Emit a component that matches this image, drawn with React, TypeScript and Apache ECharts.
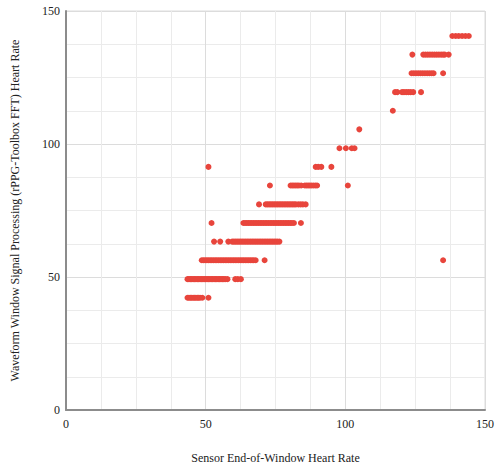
import React, { useEffect, useRef } from "react";
import * as echarts from "echarts";

// FFT output bins (rPPG-Toolbox FFT heart rate levels)
const fftBins: number[] = [42.2, 49.2, 56.3, 63.3, 70.3, 77.3, 84.4, 91.4, 98.4, 105.5, 112.5, 119.5, 126.6, 133.6, 140.6];

// Sensor end-of-window heart rate values observed at each FFT bin
const sensorAt42: number[] = [43.5, 44.0, 44.5, 45.0, 45.5, 46.0, 46.5, 47.0, 47.5, 48.0, 48.8, 51.0];
const sensorAt49: number[] = [43.5, 44, 44.5, 45, 45.5, 46, 46.5, 47, 47.5, 48, 48.5, 49, 49.5, 50, 50.5, 51, 51.5, 52, 52.5, 53, 53.5, 54, 54.5, 55, 55.5, 56, 56.5, 57, 57.8, 60.6, 61.5, 62.6];
const sensorAt56: number[] = [48.6, 49.2, 49.8, 50.4, 51, 51.6, 52.2, 52.8, 53.4, 54, 54.6, 55.2, 55.8, 56.4, 57, 57.6, 58.2, 58.8, 59.4, 60, 60.6, 61.2, 61.8, 62.4, 63, 63.6, 64.2, 64.8, 65.4, 66, 66.6, 67.2, 67.9, 71.1, 135.0];
const sensorAt63: number[] = [53.0, 55.2, 58.1, 59.5, 60.1, 60.7, 61.3, 61.9, 62.5, 63.1, 63.7, 64.3, 64.9, 65.5, 66.1, 66.7, 67.3, 67.9, 68.5, 69.1, 69.7, 70.3, 70.9, 71.5, 72.1, 72.7, 73.3, 73.9, 74.5, 75.1, 75.7, 76.4];
const sensorAt70: number[] = [52.1, 63.5, 64.1, 64.7, 65.3, 65.9, 66.5, 67.1, 67.7, 68.3, 68.9, 69.5, 70.1, 70.7, 71.3, 71.9, 72.5, 73.1, 73.7, 74.3, 74.9, 75.5, 76.1, 76.7, 77.3, 77.9, 78.5, 79.1, 79.7, 80.3, 80.9, 81.6, 84.1];
const sensorAt77: number[] = [69.1, 71.5, 72.1, 72.7, 73.3, 73.9, 74.5, 75.1, 75.7, 76.3, 76.9, 77.5, 78.1, 78.7, 79.3, 79.9, 80.5, 81.1, 81.7, 82.3, 83.2, 84.0, 84.8, 85.8];
const sensorAt84: number[] = [73.0, 80.4, 81.0, 81.6, 82.2, 82.8, 83.4, 84.2, 85.5, 86.1, 86.7, 87.3, 87.9, 88.6, 89.3, 89.9, 100.9];
const sensorAt91: number[] = [51.0, 89.4, 90.3, 91.4, 95.0];
const sensorAt98: number[] = [97.9, 100.2, 102.3, 103.3];
const sensorAt105: number[] = [105.0];
const sensorAt112: number[] = [117.0];
const sensorAt119: number[] = [117.8, 118.6, 120.3, 121.0, 121.8, 122.6, 123.4, 124.3, 127.1];
const sensorAt126: number[] = [123.7, 124.5, 125.3, 126.1, 126.9, 127.7, 128.5, 129.3, 130.1, 130.9, 131.6, 135.0];
const sensorAt133: number[] = [124.0, 127.9, 128.7, 129.5, 130.3, 131.1, 131.9, 132.7, 133.5, 134.3, 135.0, 135.6, 137.0];
const sensorAt140: number[] = [138.3, 139.5, 140.6, 141.8, 143.0, 144.2];

const sensorByBin: number[][] = [
  sensorAt42, sensorAt49, sensorAt56, sensorAt63, sensorAt70, sensorAt77, sensorAt84,
  sensorAt91, sensorAt98, sensorAt105, sensorAt112, sensorAt119, sensorAt126, sensorAt133, sensorAt140,
];

const xTitle = "Sensor End-of-Window Heart Rate";
const yTitle = "Waveform Window Signal Processing (rPPG-Toolbox FFT) Heart Rate";

export default function App() {
  const ref = useRef<HTMLDivElement>(null);

  useEffect(() => {
    if (!ref.current) return;
    const chart = echarts.init(ref.current, undefined, { renderer: "svg" });
    const data: number[][] = [];
    sensorByBin.forEach((xs, i) => xs.forEach((x) => data.push([x, fftBins[i]])));
    const font = "'Liberation Serif', 'Times New Roman', serif";
    const axisCommon = {
      type: "value" as const,
      min: 0,
      max: 150,
      interval: 50,
      axisTick: { show: false },
      axisLabel: { color: "#222", fontFamily: font, fontSize: 12 },
      splitLine: { show: true, lineStyle: { color: "#dcdcdc", width: 1 } },
      minorTick: { show: false, splitNumber: 4 },
      minorSplitLine: { show: true, lineStyle: { color: "#ebebeb", width: 1 } },
      nameLocation: "middle" as const,
      nameTextStyle: { color: "#222", fontFamily: font, fontSize: 12 },
    };
    chart.setOption({
      animation: false,
      backgroundColor: "#fff",
      grid: { left: 66, right: 10, top: 11, bottom: 60, show: true, borderColor: "#dcdcdc", borderWidth: 1 },
      xAxis: {
        ...axisCommon,
        name: xTitle,
        nameGap: 42,
        axisLine: { show: true, lineStyle: { color: "#8c8c8c", width: 2 } },
        axisLabel: { ...axisCommon.axisLabel, margin: 8 },
      },
      yAxis: {
        ...axisCommon,
        name: yTitle,
        nameGap: 45,
        nameRotate: 90,
        axisLine: { show: true, lineStyle: { color: "#8c8c8c", width: 2 } },
        axisLabel: { ...axisCommon.axisLabel, margin: 6 },
      },
      series: [
        {
          type: "scatter",
          data,
          symbolSize: 6,
          itemStyle: { color: "#e8453c", opacity: 1 },
        },
      ],
    });
    return () => chart.dispose();
  }, []);

  return <div ref={ref} style={{ width: 497, height: 470, position: "absolute", left: 0, top: 0 }} />;
}
